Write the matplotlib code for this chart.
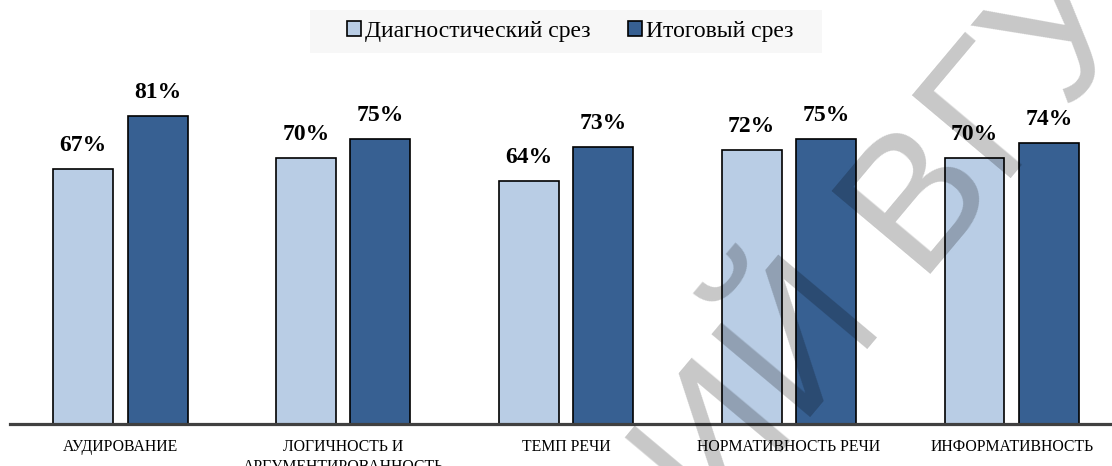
import matplotlib
matplotlib.use("Agg")
import matplotlib.pyplot as plt
from matplotlib.patches import Rectangle
import numpy as np

# данные
categories = [
    "АУДИРОВАНИЕ",
    "ЛОГИЧНОСТЬ И\nАРГУМЕНТИРОВАННОСТЬ",
    "ТЕМП РЕЧИ",
    "НОРМАТИВНОСТЬ РЕЧИ",
    "ИНФОРМАТИВНОСТЬ",
]
diagnostic = [67, 70, 64, 72, 70]
final = [81, 75, 73, 75, 74]
series_names = ["Диагностический срез", "Итоговый срез"]

plt.rcParams["font.family"] = ["Liberation Serif", "DejaVu Serif"]

W, H = 1112, 466
fig = plt.figure(figsize=(W / 100, H / 100), dpi=100)
ax = fig.add_axes([10 / W, 42 / H, 1 - 10 / W, 380 / H])

x = np.arange(len(categories))
width = 0.269
offset = 0.167
colors = ["#b9cde5", "#376092"]

bars1 = ax.bar(x - offset, diagnostic, width, color=colors[0],
               edgecolor="black", linewidth=1.2, label=series_names[0])
bars2 = ax.bar(x + offset, final, width, color=colors[1],
               edgecolor="black", linewidth=1.2, label=series_names[1])

# подписи значений
for bars, vals in [(bars1, diagnostic), (bars2, final)]:
    for bar, v in zip(bars, vals):
        ax.annotate(f"{v}%", (bar.get_x() + bar.get_width() / 2, v),
                    xytext=(0, 13), textcoords="offset points",
                    ha="center", va="baseline", fontsize=17, fontweight="bold")

ax.set_xlim(-0.495, 4.45)
ax.set_ylim(0, 100)
ax.set_xticks(x, categories, fontsize=11.3, linespacing=1.3)
ax.tick_params(axis="x", length=0, pad=11)
ax.set_yticks([])

for s in ["top", "right", "left"]:
    ax.spines[s].set_visible(False)
ax.spines["bottom"].set_linewidth(2.3)
ax.spines["bottom"].set_color("#404040")

# легенда с серой подложкой
fig.patches.append(Rectangle((310 / W, 1 - 53 / H), 512 / W, 43 / H,
                             transform=fig.transFigure, facecolor="#f7f7f7",
                             edgecolor="none", zorder=0))
fig.legend(loc="center", bbox_to_anchor=(570 / W, 1 - 31.5 / H), ncol=2,
           fontsize=17, frameon=False, handlelength=0.6, handleheight=0.6,
           handletextpad=0.15, columnspacing=1.6)

# водяной знак
fig.text(892 / W, 1 - 245 / H, "ИЙ ВГУ", fontsize=135,
         family="Liberation Sans", color="black", alpha=0.22,
         rotation=50, rotation_mode="anchor", ha="center", va="center")

fig.savefig("out.png", dpi=100)
